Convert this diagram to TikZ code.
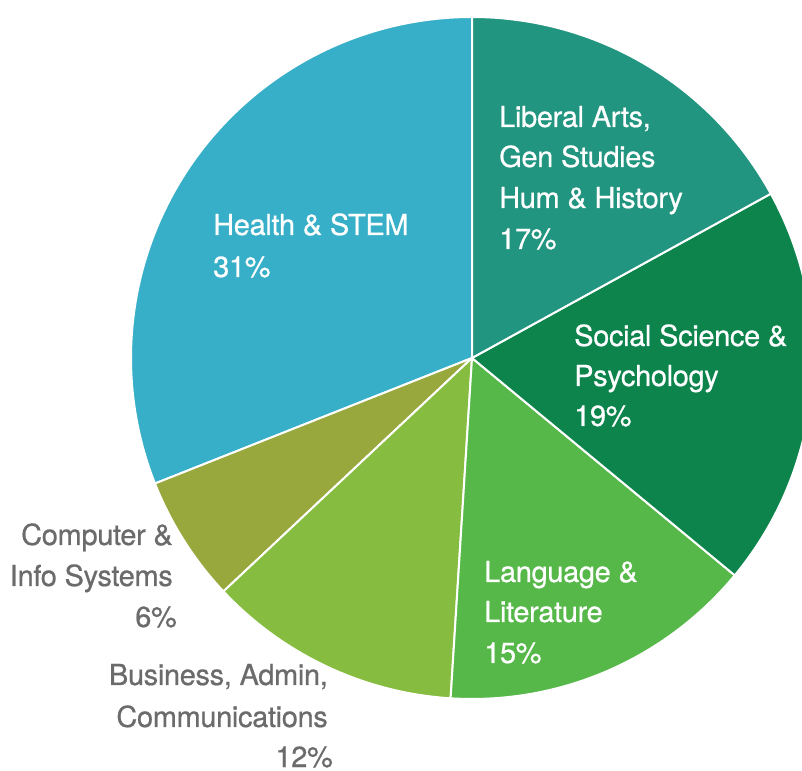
\documentclass[tikz,border=0pt]{standalone}
\usepackage{fontspec}
\setmainfont[LetterSpace=-1.2,FakeBold=0.6]{TeX Gyre Heros}
\usetikzlibrary{calc}
\definecolor{cHealth}{HTML}{38AFC8}
\definecolor{cLib}{HTML}{21957F}
\definecolor{cSoc}{HTML}{0C844C}
\definecolor{cLang}{HTML}{57B84A}
\definecolor{cBus}{HTML}{86BC40}
\definecolor{cComp}{HTML}{98A83C}
\definecolor{cGray}{HTML}{6B6B6B}
\tikzset{
  slice/.style={draw=white, line width=2pt, line join=round},
  inlab/.style={text=white, inner sep=0pt, anchor=base west, font=\fontsize{29}{29}\selectfont},
  outlab/.style={text=cGray, inner sep=0pt, anchor=base east, font=\fontsize{29}{29}\selectfont},
}
\newcommand{\pieslice}[4]{%
  \filldraw[slice, fill=#1] (c) -- ($(c)+(#2:341pt)$) arc[start angle=#2, end angle=#3, radius=341pt] -- cycle;}
\begin{document}
\begin{tikzpicture}[x=1pt,y=1pt]
\useasboundingbox (0,0) rectangle (802,770);
\clip (0,0) rectangle (802,770);
\fill[white] (0,0) rectangle (802,770);
\coordinate (c) at (472,412);
\pieslice{cHealth}{90}{201.6}{}
\pieslice{cComp}{201.6}{223.2}{}
\pieslice{cBus}{223.2}{266.4}{}
\pieslice{cLang}{266.4}{320.4}{}
\pieslice{cSoc}{320.4}{388.8}{}
\pieslice{cLib}{28.8}{90}{}
% Health
\node[inlab] (h1) at (213,535) {Health \& STEM};
\node[inlab] (h2) at (213,493) {31\%};
% Liberal Arts
\node[inlab] (l1) at (499,643) {Liberal Arts,};
\node[inlab] (l2) at (499,603) {Gen Studies};
\node[inlab] (l3) at (499,562) {Hum \& History};
\node[inlab] (l4) at (499,521) {17\%};
% Social
\node[inlab] (s1) at (574,424) {Social Science \&};
\node[inlab] (s2) at (574,384) {Psychology};
\node[inlab] (s3) at (574,344) {19\%};
% Language
\node[inlab] (g1) at (484,188) {Language \&};
\node[inlab] (g2) at (484,148) {Literature};
\node[inlab] (g3) at (484,107) {15\%};
% Computer
\node[outlab] (k1) at (173,225) {Computer \&};
\node[outlab] (k2) at (173,184) {Info Systems};
\node[outlab] (k3) at (177,143) {6\%};
% Business
\node[outlab] (b1) at (328,85) {Business, Admin,};
\node[outlab] (b2) at (328,43) {Communications};
\node[outlab] (b3) at (333,3) {12\%};
\end{tikzpicture}
\end{document}
